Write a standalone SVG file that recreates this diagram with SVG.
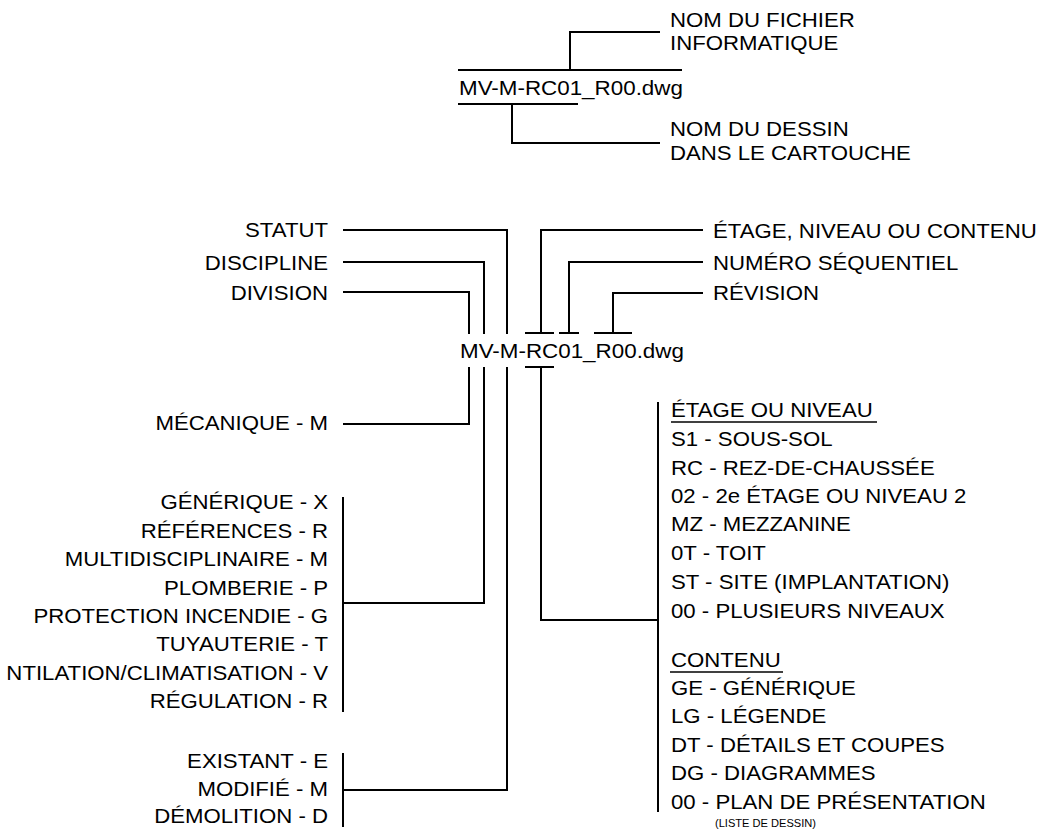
<svg xmlns="http://www.w3.org/2000/svg" width="1042" height="831" viewBox="0 0 1042 831">
<style>
.t{font-family:"Liberation Sans",Arial,sans-serif;font-size:20px;fill:#000}
.e{text-anchor:end}
.s{font-size:10px}
.c{fill:none;stroke:#000;stroke-width:2}
.u{fill:none;stroke:#000;stroke-width:1.6}
</style>
<rect width="1042" height="831" fill="#fff"/>
<g id="connectors">
<path class="c" d="M458,70 H682 M570,70 V32 H660 M458,104 H578 M512,104 V143 H660"/>
<path class="c" d="M343,230 H507 V334 M507,367 V790 H343"/>
<path class="c" d="M343,262 H484 V334 M484,367 V603 H343"/>
<path class="c" d="M343,292 H469 V334 M469,367 V424 H343"/>
<path class="c" d="M343,497 V712 M343,753 V827"/>
<path class="c" d="M525,333 H554 M541,333 V230 H703 M525,367 H554 M541,367 V620 H658"/>
<path class="c" d="M559,333 H579 M569,333 V262 H703"/>
<path class="c" d="M594,333 H632 M613,333 V293 H703"/>
<path class="c" d="M658,402 V812"/>
</g>
<g id="filename-top">
<text class="t" transform="translate(459,95) scale(1.12,1)">MV-M-RC01_R00.dwg</text>
</g>
<g id="nom-fichier">
<text class="t" transform="translate(670,27) scale(1.11,1)">NOM DU FICHIER</text>
<text class="t" transform="translate(670,50) scale(1.11,1)">INFORMATIQUE</text>
</g>
<g id="nom-dessin">
<text class="t" transform="translate(670,136) scale(1.11,1)">NOM DU DESSIN</text>
<text class="t" transform="translate(670,160) scale(1.11,1)">DANS LE CARTOUCHE</text>
</g>
<g id="filename-main">
<text class="t" transform="translate(460,358) scale(1.12,1)">MV-M-RC01_R00.dwg</text>
</g>
<g id="statut"><text class="t e" transform="translate(328,237) scale(1.11,1)">STATUT</text></g>
<g id="discipline"><text class="t e" transform="translate(328,270) scale(1.11,1)">DISCIPLINE</text></g>
<g id="division"><text class="t e" transform="translate(328,300) scale(1.11,1)">DIVISION</text></g>
<g id="etage-label"><text class="t" transform="translate(713,238) scale(1.11,1)">ÉTAGE, NIVEAU OU CONTENU</text></g>
<g id="numero-label"><text class="t" transform="translate(713,270) scale(1.11,1)">NUMÉRO SÉQUENTIEL</text></g>
<g id="revision-label"><text class="t" transform="translate(713,300) scale(1.11,1)">RÉVISION</text></g>
<g id="mecanique"><text class="t e" transform="translate(328,430) scale(1.11,1)">MÉCANIQUE - M</text></g>
<g id="disciplines-list">
<text class="t e" transform="translate(328,509) scale(1.11,1)">GÉNÉRIQUE - X</text>
<text class="t e" transform="translate(328,538) scale(1.11,1)">RÉFÉRENCES - R</text>
<text class="t e" transform="translate(328,566) scale(1.11,1)">MULTIDISCIPLINAIRE - M</text>
<text class="t e" transform="translate(328,595) scale(1.11,1)">PLOMBERIE - P</text>
<text class="t e" transform="translate(328,623) scale(1.11,1)">PROTECTION INCENDIE - G</text>
<text class="t e" transform="translate(328,651) scale(1.11,1)">TUYAUTERIE - T</text>
<text class="t e" transform="translate(328,680) scale(1.11,1)">NTILATION/CLIMATISATION - V</text>
<text class="t e" transform="translate(328,708) scale(1.11,1)">RÉGULATION - R</text>
</g>
<g id="statut-list">
<text class="t e" transform="translate(328,768) scale(1.11,1)">EXISTANT - E</text>
<text class="t e" transform="translate(328,796) scale(1.11,1)">MODIFIÉ - M</text>
<text class="t e" transform="translate(328,823) scale(1.11,1)">DÉMOLITION - D</text>
</g>
<g id="etage-list">
<text class="t" transform="translate(671,417) scale(1.11,1)">ÉTAGE OU NIVEAU</text>
<line class="u" x1="671" y1="422" x2="877" y2="422"/>
<text class="t" transform="translate(671,446) scale(1.11,1)">S1 - SOUS-SOL</text>
<text class="t" transform="translate(671,475) scale(1.11,1)">RC - REZ-DE-CHAUSSÉE</text>
<text class="t" transform="translate(671,503) scale(1.11,1)">02 - 2e ÉTAGE OU NIVEAU 2</text>
<text class="t" transform="translate(671,531) scale(1.11,1)">MZ - MEZZANINE</text>
<text class="t" transform="translate(671,560) scale(1.11,1)">0T - TOIT</text>
<text class="t" transform="translate(671,589) scale(1.11,1)">ST - SITE (IMPLANTATION)</text>
<text class="t" transform="translate(671,618) scale(1.11,1)">00 - PLUSIEURS NIVEAUX</text>
</g>
<g id="contenu-list">
<text class="t" transform="translate(671,667) scale(1.11,1)">CONTENU</text>
<line class="u" x1="670" y1="672" x2="783" y2="672"/>
<text class="t" transform="translate(671,695) scale(1.11,1)">GE - GÉNÉRIQUE</text>
<text class="t" transform="translate(671,723) scale(1.11,1)">LG - LÉGENDE</text>
<text class="t" transform="translate(671,752) scale(1.11,1)">DT - DÉTAILS ET COUPES</text>
<text class="t" transform="translate(671,780) scale(1.11,1)">DG - DIAGRAMMES</text>
<text class="t" transform="translate(671,809) scale(1.11,1)">00 - PLAN DE PRÉSENTATION</text>
<text class="t s" transform="translate(715,827) scale(1.11,1)">(LISTE DE DESSIN)</text>
</g>
</svg>
